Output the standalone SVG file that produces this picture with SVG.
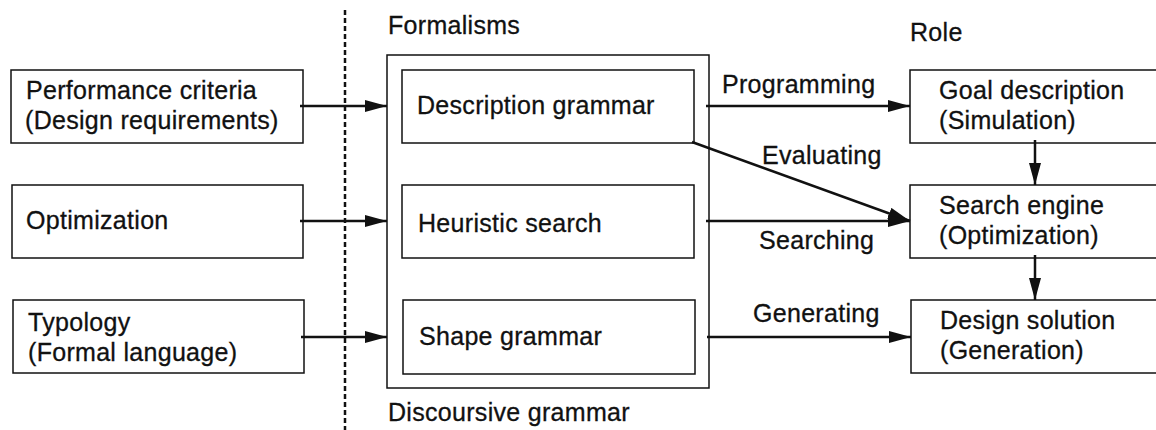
<svg xmlns="http://www.w3.org/2000/svg" width="1156" height="430" viewBox="0 0 1156 430">
<style>
  .box { fill: #fff; stroke: #111; stroke-width: 1.5; }
  .t { font-family: "Liberation Sans", Arial, sans-serif; font-size: 25px; letter-spacing: 0.3px; fill: #111; stroke: #111; stroke-width: 0.3; }
  .c { stroke: #111; stroke-width: 2.5; fill: none; }
</style>
<defs>
  <marker id="ah" viewBox="0 0 22 12" refX="22" refY="6" markerWidth="22" markerHeight="12" markerUnits="userSpaceOnUse" orient="auto">
    <path d="M0,0 L22,6 L0,12 Z" fill="#111"/>
  </marker>
</defs>
<rect width="1156" height="430" fill="#fff"/>

<line x1="345" y1="10" x2="345" y2="430" stroke="#111" stroke-width="2.5" stroke-dasharray="5,3"/>

<text class="t" x="388" y="34">Formalisms</text>
<text class="t" x="910" y="41">Role</text>
<text class="t" x="388" y="421">Discoursive grammar</text>

<g id="perf">
  <rect class="box" x="11" y="70" width="292" height="73"/>
  <text class="t" x="26" y="99">Performance criteria</text>
  <text class="t" x="25" y="129">(Design requirements)</text>
</g>
<g id="optim">
  <rect class="box" x="12" y="185" width="291" height="73"/>
  <text class="t" x="26" y="229">Optimization</text>
</g>
<g id="typology">
  <rect class="box" x="13" y="300" width="291" height="73"/>
  <text class="t" x="28" y="331">Typology</text>
  <text class="t" x="28" y="361">(Formal language)</text>
</g>

<g id="formalisms">
  <rect class="box" x="387" y="55" width="322" height="333"/>
</g>
<g id="descgrammar">
  <rect class="box" x="402" y="70" width="292" height="73"/>
  <text class="t" x="417" y="114">Description grammar</text>
</g>
<g id="heuristic">
  <rect class="box" x="402" y="185" width="292" height="73"/>
  <text class="t" x="418" y="232">Heuristic search</text>
</g>
<g id="shape">
  <rect class="box" x="403" y="300" width="292" height="74"/>
  <text class="t" x="419" y="345">Shape grammar</text>
</g>

<g id="goal">
  <rect class="box" x="910" y="70" width="260" height="73"/>
  <text class="t" x="939" y="99">Goal description</text>
  <text class="t" x="939" y="129">(Simulation)</text>
</g>
<g id="searchengine">
  <rect class="box" x="910" y="185" width="260" height="73"/>
  <text class="t" x="939" y="214">Search engine</text>
  <text class="t" x="939" y="244">(Optimization)</text>
</g>
<g id="designsolution">
  <rect class="box" x="911" y="300" width="260" height="73"/>
  <text class="t" x="940" y="329">Design solution</text>
  <text class="t" x="940" y="359">(Generation)</text>
</g>

<g id="connectors">
  <line class="c" x1="300" y1="106" x2="387" y2="106" marker-end="url(#ah)"/>
  <line class="c" x1="300" y1="221" x2="387" y2="221" marker-end="url(#ah)"/>
  <line class="c" x1="301" y1="337" x2="387" y2="337" marker-end="url(#ah)"/>
  <line class="c" x1="706" y1="106" x2="910" y2="106" marker-end="url(#ah)"/>
  <line class="c" x1="692" y1="142" x2="910" y2="221" marker-end="url(#ah)"/>
  <line class="c" x1="706" y1="221" x2="910" y2="221" marker-end="url(#ah)"/>
  <line class="c" x1="707" y1="337" x2="911" y2="337" marker-end="url(#ah)"/>
  <line class="c" x1="1035" y1="140" x2="1035" y2="185" marker-end="url(#ah)"/>
  <line class="c" x1="1035" y1="255" x2="1035" y2="300" marker-end="url(#ah)"/>
  <text class="t" x="722" y="93">Programming</text>
  <text class="t" x="762" y="164">Evaluating</text>
  <text class="t" x="759" y="249">Searching</text>
  <text class="t" x="753" y="322">Generating</text>
</g>
</svg>
